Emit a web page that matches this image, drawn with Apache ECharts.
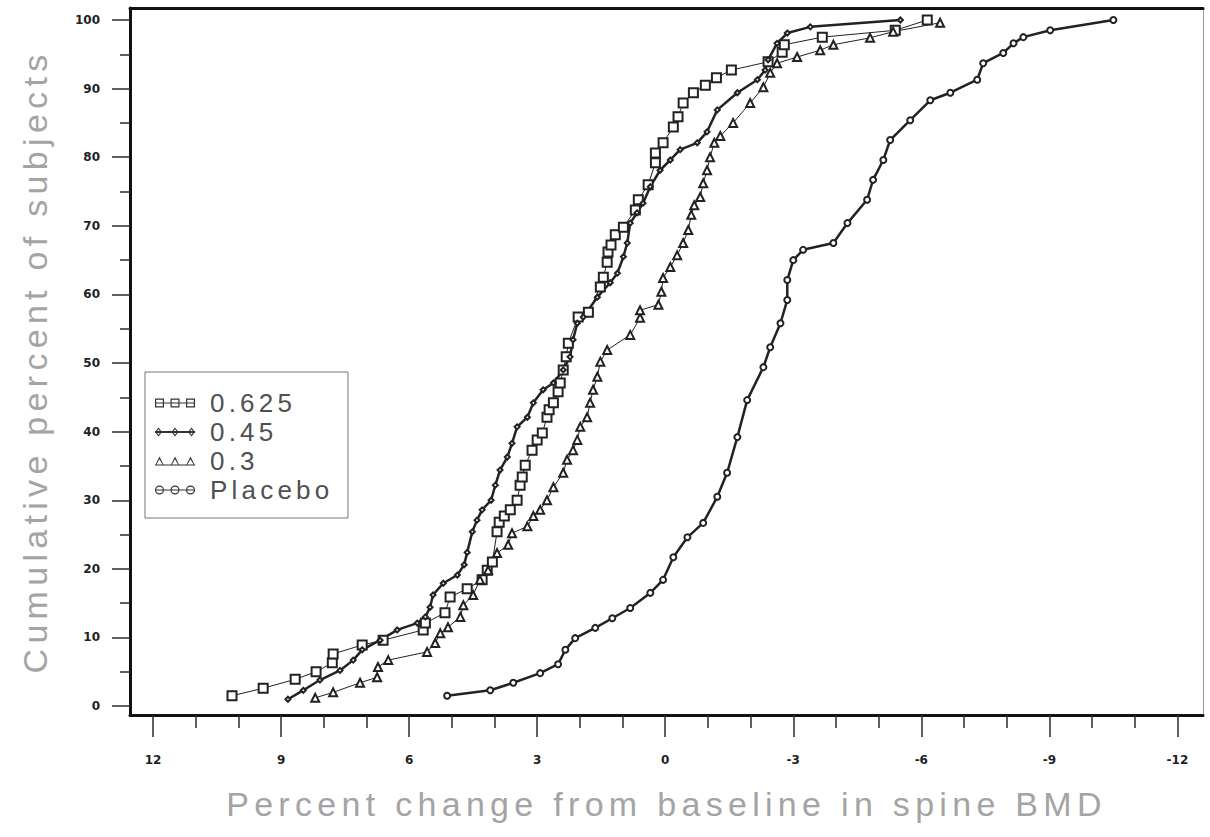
<!DOCTYPE html>
<html>
<head>
<meta charset="utf-8">
<title>Cumulative percent of subjects</title>
<script src="https://cdn.jsdelivr.net/npm/echarts@6/dist/echarts.min.js"></script>
<style>
html,body{margin:0;padding:0;background:#fff;}
#main{width:1210px;height:837px;}
/* letter-spaced titles and legend, like the original plot */
#main text[fill="#a4a4a4"]{letter-spacing:5.3px;}
#main text[fill="#505050"]{letter-spacing:4.2px;}
</style>
</head>
<body>
<div id="main"></div>
<script>
// tick labels
var xMajorTicks = [12, 9, 6, 3, 0, -3, -6, -9, -12];
var xMinorTicks = [11, 10, 8, 7, 5, 4, 2, 1, -1, -2, -4, -5, -7, -8, -10, -11];
var yMajorTicks = [0, 10, 20, 30, 40, 50, 60, 70, 80, 90, 100];
var yMinorTicks = [5, 15, 25, 35, 45, 55, 65, 75, 85, 95];

var groups = ['0.625', '0.45', '0.3', 'Placebo'];

// percent change (x) and cumulative percent (y) for each group
var dose625X = [10.15, 9.42, 8.67, 8.18, 7.80, 7.78, 7.10, 6.61, 5.67, 5.62, 5.16, 5.04, 4.64, 4.29, 4.17, 4.05, 3.94, 3.89, 3.77, 3.63, 3.47, 3.40, 3.35, 3.28, 3.12, 3.00, 2.88, 2.77, 2.72, 2.62, 2.51, 2.46, 2.39, 2.32, 2.27, 2.04, 1.80, 1.52, 1.45, 1.36, 1.34, 1.27, 1.17, 0.98, 0.70, 0.63, 0.40, 0.23, 0.23, 0.05, -0.19, -0.30, -0.42, -0.66, -0.94, -1.20, -1.55, -2.41, -2.74, -2.79, -3.68, -5.39, -6.14];
var dose625Y = [1.5, 2.6, 3.9, 5.0, 6.3, 7.6, 8.9, 9.6, 11.1, 12.1, 13.6, 15.9, 17.1, 18.4, 19.8, 21.0, 25.4, 26.8, 27.7, 28.6, 30.0, 32.2, 33.4, 35.1, 37.3, 38.8, 39.8, 42.1, 43.2, 44.2, 45.8, 47.1, 49.0, 50.9, 52.9, 56.7, 57.4, 61.1, 62.5, 64.7, 66.2, 67.2, 68.7, 69.8, 72.3, 73.8, 76.0, 79.2, 80.6, 82.1, 84.4, 85.9, 87.9, 89.4, 90.5, 91.6, 92.7, 93.9, 95.3, 96.4, 97.5, 98.5, 100];

var dose45X = [8.84, 8.48, 8.09, 7.62, 7.31, 7.10, 6.68, 6.28, 5.81, 5.62, 5.51, 5.44, 5.20, 4.87, 4.71, 4.64, 4.52, 4.41, 4.29, 4.08, 3.98, 3.87, 3.70, 3.59, 3.47, 3.23, 3.09, 2.86, 2.62, 2.39, 2.23, 2.16, 2.06, 1.92, 1.59, 1.29, 1.12, 0.98, 0.89, 0.82, 0.66, 0.52, 0.35, 0.12, -0.12, -0.35, -0.75, -0.98, -1.22, -1.69, -2.16, -2.34, -2.41, -2.62, -2.86, -3.40, -5.51];
var dose45Y = [1.0, 2.3, 3.8, 5.2, 6.7, 8.2, 9.6, 11.1, 12.1, 13.0, 14.4, 16.2, 17.9, 19.1, 20.6, 22.4, 25.4, 27.1, 28.6, 30.0, 32.2, 34.4, 36.3, 38.3, 40.7, 42.1, 44.2, 46.1, 47.1, 49.0, 50.9, 53.4, 55.8, 56.7, 59.6, 61.7, 63.1, 65.5, 67.5, 70.4, 71.9, 73.3, 75.7, 78.1, 79.6, 81.1, 82.1, 83.7, 86.9, 89.4, 91.3, 92.7, 94.2, 96.6, 98.1, 99.0, 100];

var dose3X = [8.20, 7.78, 7.15, 6.75, 6.73, 6.49, 5.58, 5.39, 5.27, 5.09, 4.80, 4.73, 4.50, 4.34, 4.15, 3.94, 3.68, 3.59, 3.23, 3.09, 2.93, 2.77, 2.62, 2.39, 2.30, 2.16, 2.06, 1.99, 1.83, 1.76, 1.69, 1.59, 1.52, 1.36, 0.82, 0.59, 0.59, 0.16, 0.09, 0.05, -0.12, -0.28, -0.42, -0.54, -0.61, -0.68, -0.82, -0.89, -0.98, -1.05, -1.15, -1.29, -1.59, -1.99, -2.30, -2.46, -2.62, -3.09, -3.63, -3.94, -4.80, -5.34, -6.44];
var dose3Y = [1.2, 2.0, 3.4, 4.2, 5.7, 6.7, 7.9, 9.2, 10.6, 11.5, 13.0, 14.7, 16.2, 18.4, 19.8, 22.3, 23.5, 25.2, 26.2, 27.7, 28.6, 30.0, 31.9, 34.0, 35.9, 37.3, 38.8, 40.7, 42.1, 44.2, 46.1, 48.0, 50.2, 51.9, 54.1, 56.6, 57.7, 58.5, 60.4, 62.4, 64.0, 65.7, 67.5, 69.4, 71.6, 73.0, 74.2, 76.2, 78.1, 80.0, 82.1, 83.1, 85.0, 87.9, 90.2, 92.3, 93.7, 94.6, 95.6, 96.4, 97.4, 98.3, 99.6];

var placeboX = [5.11, 4.10, 3.56, 2.93, 2.51, 2.34, 2.11, 1.64, 1.24, 0.82, 0.35, 0.05, -0.19, -0.52, -0.89, -1.22, -1.45, -1.69, -1.92, -2.30, -2.46, -2.70, -2.86, -2.86, -3.00, -3.23, -3.94, -4.27, -4.73, -4.87, -5.11, -5.27, -5.74, -6.21, -6.68, -7.31, -7.45, -7.92, -8.16, -8.39, -9.02, -10.5];
var placeboY = [1.5, 2.3, 3.4, 4.8, 6.1, 8.2, 9.9, 11.4, 12.8, 14.3, 16.5, 18.4, 21.7, 24.6, 26.7, 30.5, 34.0, 39.2, 44.6, 49.4, 52.3, 55.8, 59.2, 62.1, 65.0, 66.5, 67.5, 70.4, 73.8, 76.7, 79.6, 82.5, 85.4, 88.3, 89.4, 91.3, 93.7, 95.2, 96.6, 97.5, 98.5, 100];

function pairs(xs, ys){
	var out = [];
	for (var i = 0; i < xs.length; i++) out.push([xs[i], ys[i]]);
	return out;
}

// legend icons: three hollow markers on a line, 40 x 9
function bar(y0, h){
	return 'M0 '+y0+'L40 '+y0+'L40 '+(y0+h)+'L0 '+(y0+h)+'Z';
}
function squareRing(x0){
	var t = 1.2;
	return 'M'+x0+' 0L'+(x0+9)+' 0L'+(x0+9)+' 9L'+x0+' 9Z'+
		'M'+(x0+t)+' '+t+'L'+(x0+t)+' '+(9-t)+'L'+(x0+9-t)+' '+(9-t)+'L'+(x0+9-t)+' '+t+'Z';
}
function diamondRing(cx){
	return 'M'+cx+' 0L'+(cx+3.5)+' 4.5L'+cx+' 9L'+(cx-3.5)+' 4.5Z'+
		'M'+cx+' 1.7L'+(cx-2.1)+' 4.5L'+cx+' 7.3L'+(cx+2.1)+' 4.5Z';
}
function triangleRing(cx){
	return 'M'+cx+' 0L'+(cx+4.5)+' 9L'+(cx-4.5)+' 9Z'+
		'M'+cx+' 2.7L'+(cx-3.1)+' 8L'+(cx+3.1)+' 8Z';
}
function circleRing(cx){
	var r = 4.5, r2 = 3.3;
	return 'M'+(cx-r)+' 4.5A'+r+' '+r+' 0 1 1 '+(cx+r)+' 4.5A'+r+' '+r+' 0 1 1 '+(cx-r)+' 4.5Z'+
		'M'+(cx-r2)+' 4.5A'+r2+' '+r2+' 0 1 0 '+(cx+r2)+' 4.5A'+r2+' '+r2+' 0 1 0 '+(cx-r2)+' 4.5Z';
}
var icons = [
	'path://'+bar(4,1.1)+squareRing(0)+squareRing(15.5)+squareRing(31),
	'path://'+bar(3.6,1.8)+diamondRing(3.5)+diamondRing(20)+diamondRing(36.5),
	'path://'+bar(8,1)+triangleRing(4.5)+triangleRing(20)+triangleRing(35.5),
	'path://'+bar(3.9,1.2)+circleRing(4.5)+circleRing(20)+circleRing(35.5)
];

var ink = '#222';
var tickStyle = {color:'#2a2a2a', width:1.5};
var titleStyle = {fontFamily:'Liberation Sans', fontSize:34, color:'#a4a4a4'};

function lineSeries(name, xs, ys, symbol, size, width){
	return {
		name:name,
		type:'line',
		data:pairs(xs, ys),
		symbol:symbol,
		symbolSize:size,
		showAllSymbol:true,
		lineStyle:{color:ink, width:width},
		itemStyle:{color:ink, borderColor:ink, borderWidth:1},
		emphasis:{disabled:true}
	};
}

var chart = echarts.init(document.getElementById('main'), null, {renderer:'svg'});
var option = {
	backgroundColor:'#fff',
	animation:false,
	grid:{left:130, right:7, top:8, bottom:122},
	legend:{
		orient:'vertical',
		left:145,
		top:372,
		padding:[18,44,15,10],
		itemGap:3,
		itemWidth:40,
		itemHeight:9,
		selectedMode:false,
		backgroundColor:'#fff',
		borderColor:'#777',
		borderWidth:1,
		borderRadius:0,
		textStyle:{fontFamily:'Liberation Sans', fontSize:26, color:'#505050', padding:[0,0,0,10]},
		data:groups.map(function(g, i){
			return {name:g, icon:icons[i], itemStyle:{color:'#333', borderWidth:0}};
		})
	},
	xAxis:[
		{
			type:'value', position:'bottom', inverse:true, min:-12.6, max:12.54,
			name:'Percent change from baseline in spine BMD',
			nameLocation:'middle', nameGap:72, nameTextStyle:titleStyle,
			axisLine:{show:true, onZero:false, lineStyle:{color:'#111', width:3}},
			axisTick:{show:true, customValues:xMajorTicks, length:22, lineStyle:tickStyle},
			axisLabel:{customValues:xMajorTicks, margin:39, fontSize:12, fontFamily:'DejaVu Sans', fontWeight:'bold', color:'#222'},
			splitLine:{show:false}
		},
		{
			type:'value', position:'bottom', inverse:true, min:-12.6, max:12.54,
			axisLine:{show:false, onZero:false},
			axisTick:{show:true, customValues:xMinorTicks, length:13, lineStyle:tickStyle},
			axisLabel:{show:false},
			splitLine:{show:false}
		},
		{
			type:'value', position:'top', inverse:true, min:-12.6, max:12.54,
			axisLine:{show:true, onZero:false, lineStyle:{color:'#111', width:3}},
			axisTick:{show:false},
			axisLabel:{show:false},
			splitLine:{show:false}
		}
	],
	yAxis:[
		{
			type:'value', position:'left', min:-1.3, max:101.75,
			name:'Cumulative percent of subjects',
			nameLocation:'middle', nameGap:78, nameTextStyle:titleStyle,
			axisLine:{show:true, onZero:false, lineStyle:{color:'#111', width:3}},
			axisTick:{show:true, customValues:yMajorTicks, length:18, lineStyle:tickStyle},
			axisLabel:{customValues:yMajorTicks, margin:30, fontSize:12, fontFamily:'DejaVu Sans', fontWeight:'bold', color:'#222'},
			splitLine:{show:false}
		},
		{
			type:'value', position:'left', min:-1.3, max:101.75,
			axisLine:{show:false, onZero:false},
			axisTick:{show:true, customValues:yMinorTicks, length:10, lineStyle:tickStyle},
			axisLabel:{show:false},
			splitLine:{show:false}
		},
		{
			type:'value', position:'right', min:-1.3, max:101.75,
			axisLine:{show:true, onZero:false, lineStyle:{color:'#9a9a9a', width:1}},
			axisTick:{show:false},
			axisLabel:{show:false},
			splitLine:{show:false}
		}
	],
	series:[
		lineSeries(groups[0], dose625X, dose625Y, 'emptyRect', 9, 1),
		lineSeries(groups[1], dose45X, dose45Y, 'emptyDiamond', 5, 2.5),
		lineSeries(groups[2], dose3X, dose3Y, 'emptyTriangle', 8, 1),
		lineSeries(groups[3], placeboX, placeboY, 'emptyCircle', 6, 2.5)
	]
};
chart.setOption(option);
</script>
</body>
</html>
